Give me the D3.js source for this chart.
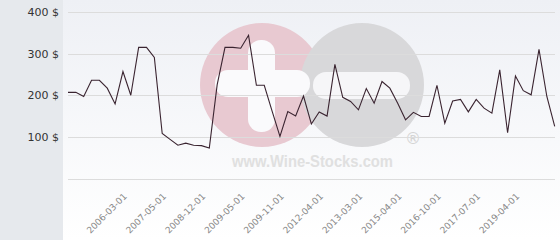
<!DOCTYPE html>
<html>
<head>
<meta charset="utf-8">
<script src="https://cdn.jsdelivr.net/npm/d3@7"></script>
<style>
  html, body { margin: 0; padding: 0; background: #fff; }
  svg { display: block; font-family: "DejaVu Sans", sans-serif; }
</style>
</head>
<body>
<svg id="chart" width="560" height="240"></svg>
<script>
// price per point (63 observations, category axis)
const prices = [
  207, 207, 197, 236, 236, 217, 179, 257, 200, 315,
  315, 291, 108, 94, 80, 85, 80, 79, 73, 225,
  315, 315, 313, 344, 224, 224, 162, 101, 161, 150,
  198, 131, 160, 150, 274, 195, 185, 165, 216, 181,
  233, 217, 181, 141, 159, 149, 149, 224, 133, 186,
  190, 160, 190, 169, 157, 261, 110, 246, 211, 201,
  310, 197, 125
];
const tickIndex = [7, 12, 17, 22, 27, 32, 37, 42, 47, 52, 57];
const tickLabels = [
  "2006-03-01", "2007-05-01", "2008-12-01", "2009-05-01", "2009-11-01",
  "2012-04-01", "2013-03-01", "2015-04-01", "2016-10-01", "2017-07-01", "2019-04-01"
];
const yTicks = [0, 100, 200, 300, 400];

const W = 560, H = 240;
const svg = d3.select("#chart");

const defs = svg.append("defs");
const grad = defs.append("linearGradient").attr("id", "bg")
  .attr("x1", 0).attr("y1", 0).attr("x2", 0).attr("y2", 1);
grad.append("stop").attr("offset", "0%").attr("stop-color", "#eef0f5");
grad.append("stop").attr("offset", "100%").attr("stop-color", "#ffffff");

// backgrounds
svg.append("rect").attr("x", 63).attr("y", 0).attr("width", W - 63).attr("height", H).attr("fill", "url(#bg)");
svg.append("rect").attr("x", 0).attr("y", 0).attr("width", 63).attr("height", H).attr("fill", "#e6e9ed");

const x = d3.scalePoint().domain(d3.range(prices.length)).range([68, 554.7]);
const y = d3.scaleLinear().domain([0, 400]).range([178.5, 12]);

// watermark
const wm = svg.append("g");
wm.append("circle").attr("cx", 262).attr("cy", 85).attr("r", 62).attr("fill", "#e8c9d1");
wm.append("circle").attr("cx", 362).attr("cy", 85).attr("r", 62).attr("fill", "#d8d8da");
wm.append("rect").attr("x", 248).attr("y", 40).attr("width", 27).attr("height", 92).attr("rx", 13).attr("fill", "#fafafc");
wm.append("rect").attr("x", 215).attr("y", 70).attr("width", 95).attr("height", 27).attr("rx", 13).attr("fill", "#fafafc");
wm.append("rect").attr("x", 313).attr("y", 72).attr("width", 97).attr("height", 27).attr("rx", 13).attr("fill", "#f6f6f8");
wm.append("text").attr("x", 232).attr("y", 167)
  .attr("font-family", "'Liberation Sans', Arial, sans-serif")
  .attr("textLength", 161).attr("lengthAdjust", "spacingAndGlyphs")
  .attr("font-size", 16).attr("font-weight", "bold").attr("fill", "#e0e0e0")
  .text("www.Wine-Stocks.com");
wm.append("text").attr("x", 413).attr("y", 144).attr("text-anchor", "middle")
  .attr("font-size", 16).attr("fill", "#d4d4d4").text("®");

// grid
svg.append("g").selectAll("line").data(yTicks).join("line")
  .attr("x1", 68).attr("x2", 555)
  .attr("y1", d => Math.round(y(d)) + 0.5).attr("y2", d => Math.round(y(d)) + 0.5)
  .attr("stroke", "#dcdcdc").attr("stroke-width", 1);

// y labels
svg.append("g").selectAll("text").data(yTicks.filter(d => d > 0)).join("text")
  .attr("x", 59).attr("y", d => y(d) + 4)
  .attr("text-anchor", "end").attr("font-size", 11).attr("fill", "#333")
  .text(d => d + " $");

// x labels
svg.append("g").selectAll("text").data(tickIndex).join("text")
  .attr("transform", d => `translate(${x(d) + 4.5},197) rotate(-45)`)
  .attr("text-anchor", "end").attr("font-size", 9).attr("fill", "#888")
  .text((d, i) => tickLabels[i]);

// line
const line = d3.line().x((d, i) => x(i)).y(d => y(d));
svg.append("path").datum(prices)
  .attr("d", line).attr("fill", "none")
  .attr("stroke", "#3a2430").attr("stroke-width", 1.1);
</script>
</body>
</html>
